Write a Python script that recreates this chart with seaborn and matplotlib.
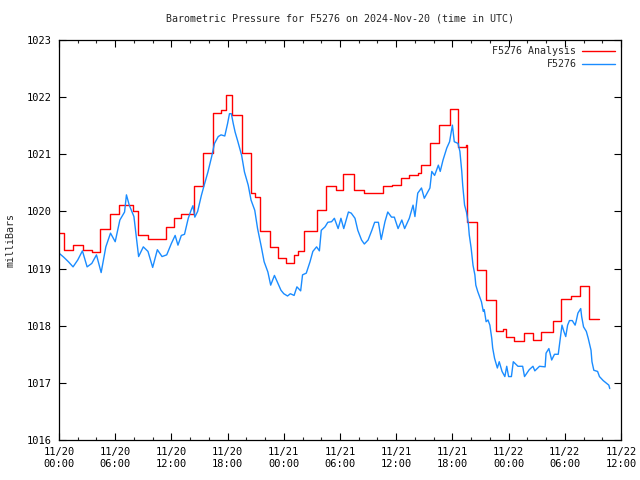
import matplotlib
matplotlib.use('Agg')
import matplotlib.pyplot as plt
import seaborn as sns
import pandas as pd

# hours since 2024-11-20 00:00 UTC
analysis_hours = [0.0, 0.5, 1.5, 2.6, 3.5, 4.4, 5.4, 6.4, 7.9, 8.4, 9.5, 11.4, 12.3, 13.0, 14.4,
                  15.4, 16.4, 17.3, 17.8, 18.5, 19.5, 20.5, 20.9, 21.5, 22.5, 23.4, 24.2, 25.1,
                  25.5, 26.2, 27.5, 28.5, 29.6, 30.3, 31.5, 32.6, 34.6, 35.6, 36.5, 37.4, 38.3,
                  38.7, 39.6, 40.6, 41.7, 42.6, 43.5, 43.6, 44.6, 45.6, 46.7, 47.4, 47.7, 48.6,
                  49.6, 50.6, 51.5, 52.7, 53.6, 54.7, 55.6, 56.6, 57.6]
analysis_mb = [1019.62, 1019.33, 1019.42, 1019.32, 1019.29, 1019.70, 1019.95, 1020.12, 1020.00,
               1019.59, 1019.51, 1019.73, 1019.89, 1019.95, 1020.44, 1021.03, 1021.73, 1021.78,
               1022.03, 1021.69, 1021.03, 1020.32, 1020.26, 1019.66, 1019.37, 1019.19, 1019.09,
               1019.24, 1019.30, 1019.65, 1020.02, 1020.44, 1020.38, 1020.65, 1020.37, 1020.33,
               1020.44, 1020.46, 1020.58, 1020.63, 1020.67, 1020.82, 1021.19, 1021.52, 1021.80,
               1021.13, 1021.16, 1019.82, 1018.97, 1018.45, 1017.91, 1017.95, 1017.81, 1017.73,
               1017.88, 1017.75, 1017.89, 1018.09, 1018.46, 1018.52, 1018.69, 1018.11, 1018.11]

station_hours = [0.0, 0.5, 1.0, 1.5, 2.0, 2.5, 3.0, 3.5, 4.0, 4.5, 5.0, 5.5, 6.0, 6.5, 7.0, 7.2,
                 7.5, 8.0, 8.5, 9.0, 9.5, 10.0, 10.5, 11.0, 11.5, 12.0, 12.4, 12.7, 13.06, 13.4,
                 13.8, 14.1, 14.3, 14.5, 14.8, 15.2, 15.5, 15.9, 16.3, 16.6, 17.0, 17.3, 17.7,
                 18.0, 18.2, 18.4, 18.6, 18.8, 19.1, 19.5, 19.8, 20.2, 20.5, 20.9, 21.2, 21.6,
                 21.9, 22.3, 22.6, 23.0, 23.3, 23.7, 24.0, 24.4, 24.7, 25.1, 25.4, 25.8, 26.0,
                 26.4, 26.8, 27.1, 27.5, 27.8, 28.0, 28.4, 28.7, 29.1, 29.4, 29.8, 30.1, 30.4,
                 30.9, 31.2, 31.6, 31.9, 32.3, 32.6, 33.0, 33.4, 33.7, 34.1, 34.4, 34.8, 35.1,
                 35.5, 35.8, 36.2, 36.6, 36.9, 37.4, 37.8, 38.0, 38.3, 38.7, 39.0, 39.6, 39.8,
                 40.1, 40.5, 40.7, 41.0, 41.4, 41.7, 42.0, 42.2, 42.6, 42.8, 43.0, 43.1, 43.3,
                 43.5, 43.7, 43.8, 44.0, 44.2, 44.4, 44.5, 44.7, 45.1, 45.3, 45.4, 45.6, 45.8,
                 46.0, 46.2, 46.3, 46.5, 46.8, 47.0, 47.3, 47.6, 47.8, 48.0, 48.3, 48.5, 49.0,
                 49.5, 49.7, 50.2, 50.6, 50.8, 51.3, 51.9, 52.0, 52.3, 52.6, 52.9, 53.3, 53.5,
                 53.7, 53.9, 54.1, 54.3, 54.5, 54.8, 55.1, 55.2, 55.4, 55.7, 55.8, 56.0, 56.3,
                 56.5, 56.8, 56.9, 57.1, 57.5, 57.7, 58.1, 58.4, 58.7, 58.8]
station_mb = [1019.27, 1019.20, 1019.12, 1019.03, 1019.15, 1019.31, 1019.03, 1019.09, 1019.24,
              1018.93, 1019.38, 1019.62, 1019.47, 1019.85, 1019.99, 1020.29, 1020.11, 1019.91,
              1019.21, 1019.38, 1019.30, 1019.02, 1019.33, 1019.21, 1019.24, 1019.44, 1019.58,
              1019.41, 1019.58, 1019.60, 1019.88, 1020.02, 1020.10, 1019.90, 1020.00, 1020.28,
              1020.46, 1020.69, 1020.96, 1021.19, 1021.31, 1021.34, 1021.32, 1021.54, 1021.71,
              1021.71, 1021.54, 1021.39, 1021.22, 1020.98, 1020.69, 1020.46, 1020.20, 1020.02,
              1019.70, 1019.38, 1019.12, 1018.94, 1018.71, 1018.88, 1018.77, 1018.62, 1018.56,
              1018.52, 1018.56, 1018.53, 1018.68, 1018.61, 1018.89, 1018.92, 1019.12, 1019.30,
              1019.38, 1019.31, 1019.67, 1019.73, 1019.81, 1019.82, 1019.88, 1019.70, 1019.88,
              1019.70, 1019.99, 1019.97, 1019.88, 1019.67, 1019.50, 1019.43, 1019.50, 1019.67,
              1019.81, 1019.81, 1019.51, 1019.82, 1019.99, 1019.90, 1019.90, 1019.70, 1019.85,
              1019.70, 1019.88, 1020.11, 1019.91, 1020.32, 1020.41, 1020.23, 1020.41, 1020.70,
              1020.63, 1020.81, 1020.70, 1020.90, 1021.11, 1021.22, 1021.51, 1021.22, 1021.19,
              1021.05, 1020.70, 1020.46, 1020.11, 1019.99, 1019.79, 1019.59, 1019.36, 1019.06,
              1018.89, 1018.71, 1018.60, 1018.42, 1018.25, 1018.28, 1018.07, 1018.10, 1018.01,
              1017.78, 1017.61, 1017.43, 1017.26, 1017.37, 1017.20, 1017.11, 1017.29, 1017.11,
              1017.11, 1017.37, 1017.29, 1017.29, 1017.11, 1017.23, 1017.29, 1017.21, 1017.29,
              1017.28, 1017.52, 1017.60, 1017.40, 1017.50, 1017.50, 1017.75, 1018.01, 1017.90,
              1017.81, 1018.01, 1018.09, 1018.09, 1018.01, 1018.07, 1018.22, 1018.30, 1018.16,
              1017.98, 1017.90, 1017.78, 1017.57, 1017.37, 1017.22, 1017.20, 1017.11, 1017.04,
              1017.00, 1016.96, 1016.90]

tick_hours = list(range(0, 61, 6))
tick_labels = ['11/20\n00:00', '11/20\n06:00', '11/20\n12:00', '11/20\n18:00',
               '11/21\n00:00', '11/21\n06:00', '11/21\n12:00', '11/21\n18:00',
               '11/22\n00:00', '11/22\n06:00', '11/22\n12:00']

analysis = pd.DataFrame({'hour': analysis_hours, 'mb': analysis_mb})
station = pd.DataFrame({'hour': station_hours, 'mb': station_mb})

sns.set_style('ticks')
plt.rcParams['font.family'] = ['DejaVu Sans Mono']
plt.rcParams['font.size'] = 7.2

fig = plt.figure(figsize=(6.4, 4.8), dpi=100)
ax = fig.add_axes([59/640, 40/480, 562/640, 400/480])

sns.lineplot(data=analysis, x='hour', y='mb', ax=ax, color='#ff0000', linewidth=1.0,
             drawstyle='steps-post', label='F5276 Analysis')
sns.lineplot(data=station, x='hour', y='mb', ax=ax, color='#1a8cff', linewidth=1.0,
             label='F5276')

ax.set_xlim(0, 60)
ax.set_ylim(1016, 1023)
ax.set_xticks(tick_hours)
ax.set_xticklabels(tick_labels)
ax.set_xticks(range(0, 61, 2), minor=True)
ax.set_yticks(range(1016, 1024))
ax.tick_params(which='major', direction='in', length=5, width=0.8, top=True, right=True,
               labelsize=7.5, colors='black', pad=5)
ax.tick_params(which='minor', direction='in', length=2.5, width=0.8, top=True, right=False)
for s in ax.spines.values():
    s.set_linewidth(0.9)
    s.set_color('black')

ax.set_xlabel('')
ax.set_ylabel('milliBars', fontsize=7.2, labelpad=8)
ax.set_title('Barometric Pressure for F5276 on 2024-Nov-20 (time in UTC)', fontsize=7.2, pad=13)

leg = ax.legend(loc='upper right', frameon=False, markerfirst=False, handlelength=3.3,
                fontsize=7.2, borderaxespad=0.25, labelspacing=0.3, handletextpad=0.5)

fig.savefig('out.png', dpi=100)
